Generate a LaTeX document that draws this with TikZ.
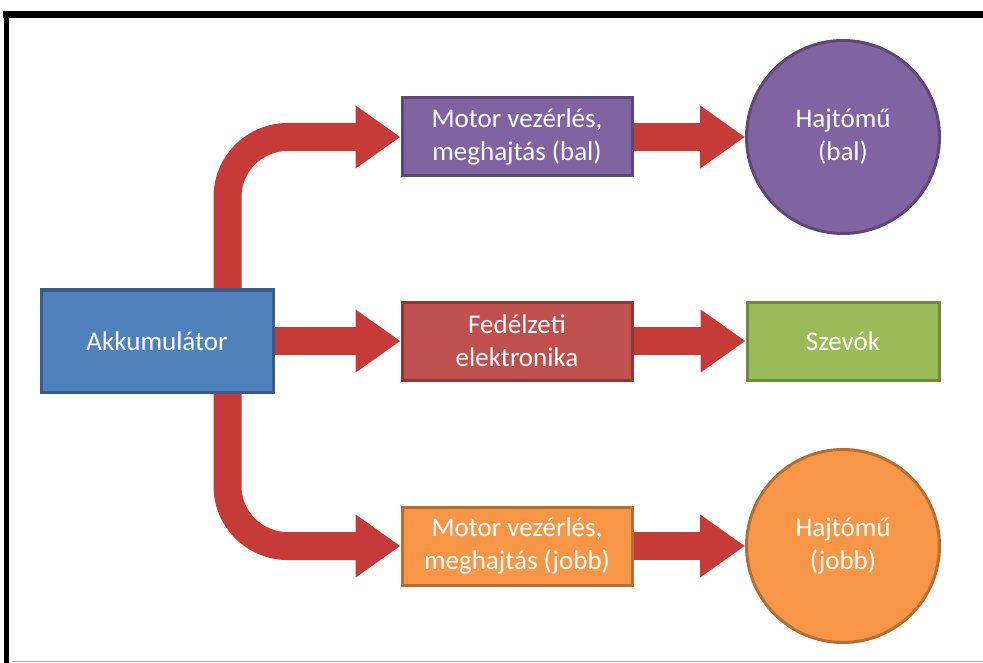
\documentclass[tikz,border=0pt]{standalone}
\usepackage{fontspec}
\setmainfont{Carlito}
\usetikzlibrary{arrows.meta,positioning,backgrounds}

\definecolor{akkblue}{HTML}{4F81BD}
\definecolor{akkblueD}{HTML}{385D8A}
\definecolor{lila}{HTML}{8064A2}
\definecolor{lilaD}{HTML}{5C4776}
\definecolor{piros}{HTML}{C0504D}
\definecolor{pirosD}{HTML}{8C3836}
\definecolor{zold}{HTML}{9BBB59}
\definecolor{zoldD}{HTML}{71893E}
\definecolor{narancs}{HTML}{F79646}
\definecolor{narancsD}{HTML}{B66D31}
\definecolor{nyil}{RGB}{198,58,55}

\begin{document}
\begin{tikzpicture}[
  x=1pt, y=-1pt,
  font=\fontsize{27}{33}\selectfont,
  blk/.style={draw, line width=3pt, text=white, minimum width=230pt, minimum height=78pt, align=center, inner sep=2pt},
  wheel/.style={circle, draw, line width=3pt, text=white, minimum size=193pt, align=center, inner sep=0pt},
  flow/.style={line width=28pt, draw=nyil, -{Triangle[length=45pt, width=60pt]}}
]
\useasboundingbox (0,0) rectangle (983,663);

% frame of the slide
\draw[line width=7pt] (3,14.5) -- (983,14.5);
\draw[line width=5pt] (6,11) -- (6,663);
\draw[black!35, line width=1.2pt] (12,661.5) -- (983,661.5);

\node[blk, fill=akkblue, draw=akkblueD, minimum width=232pt, minimum height=102pt] (akk) at (157,341) {Akkumulátor};

\node[blk, fill=lila, draw=lilaD]       (vezbal)  at (517,137) {Motor vezérlés,\\meghajtás (bal)};
\node[blk, fill=piros, draw=pirosD]     (fedelz)  at (517,341) {Fedélzeti\\elektronika};
\node[blk, fill=narancs, draw=narancsD] (vezjobb) at (517,546) {Motor vezérlés,\\meghajtás (jobb)};

\node[wheel, fill=lila, draw=lilaD]       (hajtbal)  at (843,137) {Hajtómű\\(bal)};
\node[blk, fill=zold, draw=zoldD, minimum width=192pt] (szevo) at (843,341) {Szevók};
\node[wheel, fill=narancs, draw=narancsD] (hajtjobb) at (843,546) {Hajtómű\\(jobb)};

\begin{scope}[on background layer]
  \draw[flow, rounded corners=60pt] ([xshift=-47pt]akk.north east) |- (vezbal.west);
  \draw[flow, rounded corners=60pt] ([xshift=-47pt]akk.south east) |- (vezjobb.west);
  \foreach \a/\b in {akk/fedelz, vezbal/hajtbal, fedelz/szevo, vezjobb/hajtjobb}
    \draw[flow] (\a) -- (\b);
\end{scope}

\end{tikzpicture}
\end{document}
